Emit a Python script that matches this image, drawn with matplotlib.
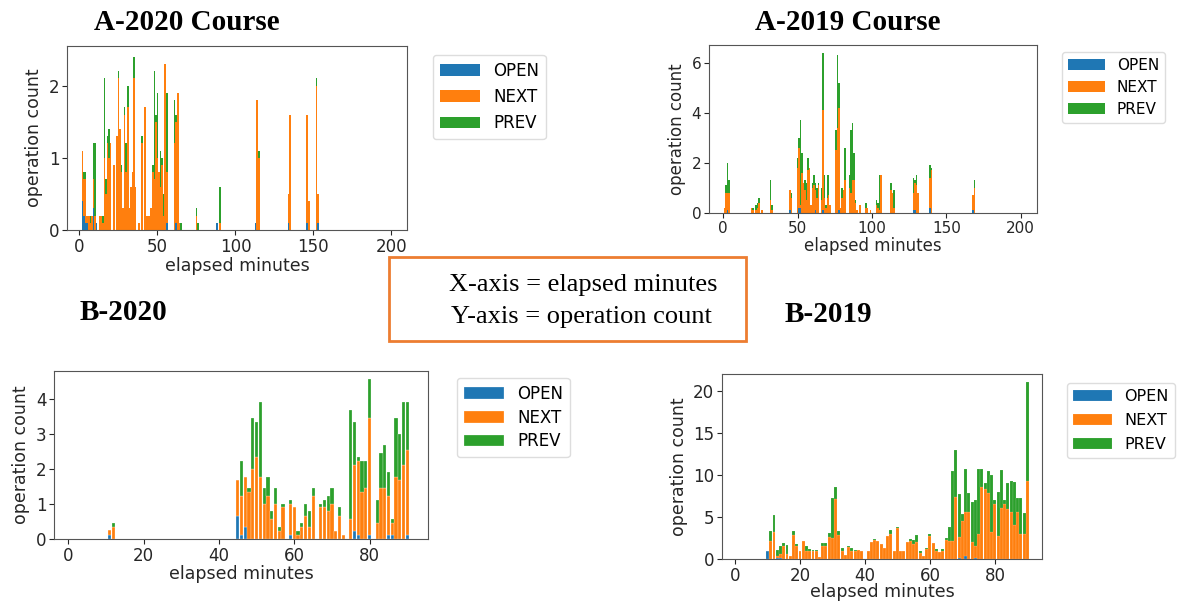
import matplotlib
matplotlib.use("Agg")
import matplotlib.pyplot as plt
from matplotlib.patches import Rectangle

plt.rcParams["font.family"] = "DejaVu Sans"

labels = ["OPEN", "NEXT", "PREV"]
colors = ["#1f77b4", "#ff7f0e", "#2ca02c"]

# ---- A-2020 Course ----
a20_min = [2, 3, 4, 5, 6, 7, 8, 9, 10, 11,
           13, 14, 15, 16, 17, 18, 19, 20,
           22, 24, 25, 26, 27, 28, 29, 30, 31, 32,
           33, 34, 35, 36, 38, 40, 42, 43, 44, 45,
           46, 47, 48, 49, 50, 51, 52, 53, 54, 55,
           56, 61, 62, 63, 64, 65, 75, 76, 88, 90,
           113, 114, 115, 134, 135, 146, 147, 152, 153]
a20_open = [0.4, 0.2, 0.1, 0.1, 0, 0, 0, 0.3, 0, 0.1,
            0, 0, 0, 0, 0, 0, 0, 0,
            0, 0, 0, 0, 0, 0, 0, 0, 0, 0,
            0, 0, 0, 0, 0, 0, 0, 0, 0, 0,
            0, 0, 0, 0, 0, 0, 0, 0, 0, 0,
            0.1, 0, 0.1, 0, 0, 0, 0, 0, 0.1, 0,
            0.1, 0, 0, 0.1, 0, 0.1, 0, 0, 0.1]
a20_next = [0.7, 0.5, 0.6, 0.1, 0.2, 0.1, 0.2, 0.4, 0.2, 0,
            0.2, 0.2, 0.1, 1.0, 0.5, 1.2, 1.0, 1.2,
            0.9, 1.3, 2.1, 1.4, 0.8, 0.3, 1.6, 0.8, 1.7, 0.3,
            0.6, 0.8, 2.1, 0.6, 0.1, 1.2, 1.7, 0.2, 0.2, 0.2,
            0.3, 0.8, 0.7, 1.5, 1.0, 0.8, 0.6, 0.9, 0.2, 2.3,
            0.7, 1.2, 1.4, 1.9, 0.1, 0, 0.2, 0, 0, 0.1,
            0, 1.8, 1.0, 0.4, 1.6, 1.5, 0.4, 2.0, 0.4]
a20_prev = [0, 0.1, 0.1, 0, 0, 0.1, 0, 0.5, 1.0, 0,
            0, 0, 0.1, 1.1, 0.2, 0.1, 0.4, 0,
            0, 0, 0.1, 0, 0.1, 0, 0.1, 0.4, 0.3, 0,
            0, 0, 0.3, 0, 0, 0.1, 0, 0, 0, 0,
            0, 0.1, 1.5, 0.1, 0.9, 0, 0.5, 0.1, 0.3, 0,
            1.1, 0.6, 0.1, 0, 0, 0.1, 0.1, 0.1, 0, 0.5,
            0, 0, 0.1, 0, 0, 0, 0, 0.1, 0]

# ---- A-2019 Course ----
a19_min = [1, 2, 3, 4, 19, 20, 22, 23, 24, 26,
           32, 33, 45, 46, 50, 51, 52, 53, 54, 55,
           56, 57, 58, 59, 60, 61, 62, 63, 64, 66,
           67, 68, 69, 70, 71, 72, 76, 77, 78, 79,
           80, 81, 82, 85, 86, 87, 88, 89, 90, 92,
           96, 97, 99, 103, 104, 105, 106, 113, 114, 115,
           128, 129, 130, 131, 139, 140, 168, 169]
a19_open = [0, 0, 0.1, 0, 0, 0, 0, 0, 0, 0,
            0, 0, 0.1, 0, 0, 0.2, 0.2, 0, 0, 0,
            0, 0, 0, 0, 0, 0, 0.1, 0, 0, 0,
            0.1, 0, 0, 0, 0, 0, 0, 0, 0.1, 0,
            0, 0, 0, 0, 0, 0, 0, 0, 0, 0,
            0, 0, 0, 0, 0, 0, 0, 0, 0, 0,
            0.1, 0.1, 0, 0, 0.2, 0, 0.1, 0]
a19_next = [0.2, 0.8, 0.7, 0.8, 0.2, 0.1, 0.1, 0.2, 0.4, 0.1,
            0.5, 0.1, 0.8, 0.6, 1.8, 2.4, 0.1, 1.6, 1.2, 0.9,
            0.5, 1.7, 1.8, 0.3, 1.0, 1.1, 0.8, 0.6, 1.1, 0.5,
            4.0, 0.6, 0.2, 0.6, 0.7, 0.3, 2.5, 3.4, 4.1, 0.2,
            0.6, 0.9, 1.3, 1.0, 0.8, 1.3, 1.3, 0.4, 0.1, 0.3,
            0.2, 0.2, 0.1, 0.3, 0.2, 0.1, 1.5, 0.9, 0.8, 0.2,
            0.7, 1.1, 1.1, 0.8, 1.2, 1.7, 0.6, 1.0]
a19_prev = [0, 0.3, 1.2, 0.5, 0, 0.1, 0.2, 0.2, 0.2, 0,
            0.8, 0.2, 0, 0.2, 0.4, 0.4, 3.4, 0.8, 0, 0.4,
            0.7, 0.5, 0, 0, 0.2, 0.4, 0.3, 0.4, 0.1, 0.5,
            2.3, 0.9, 0.1, 0.9, 0.8, 0, 0.8, 2.9, 1.0, 0,
            0.4, 0, 1.3, 0.5, 2.5, 2.3, 1.1, 0.1, 0, 0,
            0.2, 0, 0, 0.2, 0.2, 1.4, 0, 0.3, 0, 0.7,
            0.6, 0.1, 0.4, 0, 0.5, 0.1, 0, 0.3]

# ---- B-2020 ----
b20_min = [11, 12, 45, 46, 47, 48, 49, 50, 51, 52, 53, 54, 55, 56, 57,
           59, 60, 61, 62, 63, 64, 65, 67, 68, 69, 70, 71, 72, 73,
           75, 76, 77, 78, 79, 80, 82, 83, 84, 85, 86, 87, 88, 89, 90]
b20_open = [0.12, 0, 0.67, 0.12, 0.35, 0, 0, 0, 0, 0, 0, 0, 0, 0, 0,
            0.12, 0, 0, 0, 0, 0, 0, 0, 0, 0, 0, 0, 0, 0,
            0, 0.23, 0.12, 0, 0, 0.12, 0, 0, 0, 0.12, 0.12, 0, 0, 0, 0.12]
b20_next = [0.13, 0.35, 1.0, 1.11, 1.42, 1.35, 2.0, 2.35, 1.77, 1.0, 1.23, 0.57, 1.0, 0.23, 0.9,
            0.88, 0.9, 0.12, 0.35, 0.67, 0.35, 1.23, 0.9, 0.9, 0.8, 1.0, 0.23, 0.67, 0.12,
            0.57, 1.87, 2.1, 1.35, 1.45, 3.33, 0.45, 1.45, 1.45, 1.11, 0.33, 1.77, 1.67, 2.1, 2.43]
b20_prev = [0, 0.1, 0, 0.99, 0, 0.1, 1.45, 0.98, 2.13, 0.45, 0.54, 0.23, 0.45, 0.12, 0.1,
            0.12, 0, 0.11, 0.1, 0.33, 0.45, 0.22, 0.1, 0.22, 0.43, 0.45, 0, 0.23, 0,
            3.1, 1.23, 0.11, 0.87, 0.77, 1.1, 0.67, 1.0, 1.22, 0.67, 0.12, 1.68, 1.33, 1.8, 1.35]

# ---- B-2019 ----
b19_min = list(range(10, 40)) + list(range(41, 91))
b19_open = [0.9, 0, 0, 0.1, 0.1, 0, 0, 0, 0, 0,
            0, 0, 0, 0, 0, 0, 0, 0, 0, 0,
            0, 0, 0, 0, 0, 0, 0, 0, 0, 0,
            0, 0, 0, 0, 0, 0, 0, 0, 0, 0,
            0, 0, 0, 0, 0, 0, 0, 0, 0, 0,
            0, 0, 0, 0, 0, 0, 0, 0, 0.1, 0,
            0.3, 0, 0, 0.1, 0, 0, 0, 0, 0, 0,
            0, 0, 0, 0, 0, 0, 0, 0, 0, 0]
b19_next = [0.1, 2.1, 3.2, 0.3, 0.5, 1.5, 0.6, 0.3, 2.9, 1.5,
            0.9, 2.1, 0.9, 1.0, 1.0, 0.9, 0.2, 1.6, 1.6, 2.6,
            2.5, 7.1, 2.9, 0.9, 0.5, 1.4, 1.0, 0.9, 1.1, 0.9,
            1.0, 2.0, 2.3, 2.1, 1.8, 1.3, 2.7, 3.0, 1.0, 3.7,
            0.9, 0.9, 2.0, 2.2, 1.8, 2.0, 0.7, 0.3, 1.2, 2.7,
            1.9, 1.0, 0.8, 1.0, 2.3, 2.1, 2.1, 7.4, 2.5, 4.5,
            5.3, 5.6, 2.0, 1.5, 3.0, 8.6, 8.3, 7.8, 3.2, 6.6,
            2.7, 6.1, 6.5, 6.0, 5.6, 4.0, 5.6, 3.0, 3.0, 9.3]
b19_prev = [0, 1.2, 2.0, 0.7, 1.0, 0.4, 1.1, 0, 0.4, 0.3,
            0, 0, 0.6, 0.2, 0.1, 0.2, 0, 0.3, 0.3, 0.5,
            4.7, 1.5, 0.4, 0.4, 0, 0.1, 0.3, 0.2, 0, 0,
            0, 0, 0.1, 0, 0, 0, 0, 0.4, 0, 0.1,
            0, 0, 0, 0.2, 0.5, 0.9, 0.2, 0, 0.1, 0.3,
            0, 0.2, 0, 0.2, 0.2, 1.7, 8.4, 5.6, 5.1, 0.9,
            5.1, 2.3, 4.8, 5.4, 7.7, 2.1, 0.7, 2.7, 6.8, 0.4,
            5.3, 4.5, 0.5, 3.0, 3.7, 5.1, 1.6, 4.3, 2.5, 11.7]

W, H = 1177, 603
fig = plt.figure(figsize=(W / 100, H / 100), dpi=100)


def px_axes(left, top, right, bottom):
    return fig.add_axes([left / W, 1 - bottom / H, (right - left) / W, (bottom - top) / H])


def stacked(ax, minutes, op, nx, pv, width, lw, xlim, ylim, yticks, xticks, tick_fs, lab_fs, xpad):
    bottom2 = [a + b for a, b in zip(op, nx)]
    kw = dict(width=width, edgecolor=(1, 1, 1, 0.6), linewidth=lw)
    ax.bar(minutes, op, color=colors[0], label=labels[0], **kw)
    ax.bar(minutes, nx, bottom=op, color=colors[1], label=labels[1], **kw)
    ax.bar(minutes, pv, bottom=bottom2, color=colors[2], label=labels[2], **kw)
    ax.set_xlim(*xlim)
    ax.set_ylim(*ylim)
    ax.set_yticks(yticks)
    ax.set_xticks(xticks)
    ax.tick_params(labelsize=tick_fs, colors="#262626", pad=2)
    ax.set_xlabel("elapsed minutes", fontsize=lab_fs, color="#262626", labelpad=xpad)
    ax.set_ylabel("operation count", fontsize=lab_fs, color="#262626", labelpad=4)
    for s in ax.spines.values():
        s.set_color("#555555")


def legend(ax, x, y, fs, spacing):
    ax.legend(loc="upper left", bbox_to_anchor=(x / W, 1 - y / H), bbox_transform=fig.transFigure,
              fontsize=fs, handlelength=2.4, labelspacing=spacing, borderaxespad=0, framealpha=1,
              edgecolor="#dddddd")


ax1 = px_axes(67, 46, 407, 230)
stacked(ax1, a20_min, a20_open, a20_next, a20_prev, 1.0, 0, (-8, 210), (0, 2.55), [0, 1, 2],
        [0, 50, 100, 150, 200], 12, 12.5, 1)
legend(ax1, 433, 55, 12, 0.5)

ax2 = px_axes(709, 45, 1037, 213)
stacked(ax2, a19_min, a19_open, a19_next, a19_prev, 1.0, 0, (-9.5, 211), (0, 6.7), [0, 2, 4, 6],
        [0, 50, 100, 150, 200], 11, 12, 1)
legend(ax2, 1062, 52, 11, 0.45)

ax3 = px_axes(54, 371, 428, 539)
stacked(ax3, b20_min, b20_open, b20_next, b20_prev, 0.85, 0.3, (-3.8, 95.5), (0, 4.79), [0, 1, 2, 3, 4],
        [0, 20, 40, 60, 80], 12, 12.5, 0)
legend(ax3, 457, 378, 12, 0.35)

ax4 = px_axes(722, 374, 1042, 559)
stacked(ax4, b19_min, b19_open, b19_next, b19_prev, 0.9, 0.15, (-4, 94.5), (0, 22), [0, 5, 10, 15, 20],
        [0, 20, 40, 60, 80], 12, 12.5, -1)
legend(ax4, 1067, 383, 11.5, 0.55)

serif = "Liberation Serif"
fig.text(187 / W, 1 - 22 / H, "A-2020 Course", family=serif, weight="bold", fontsize=21, ha="center", va="center")
fig.text(848 / W, 1 - 22 / H, "A-2019 Course", family=serif, weight="bold", fontsize=21, ha="center", va="center")
fig.text(123 / W, 1 - 313 / H, "B-2020", family=serif, weight="bold", fontsize=21, ha="center", va="center")
fig.text(828 / W, 1 - 315 / H, "B-2019", family=serif, weight="bold", fontsize=21, ha="center", va="center")

fig.patches.append(Rectangle((389 / W, 1 - 341 / H), (746 - 389) / W, (341 - 257) / H,
                             transform=fig.transFigure, fill=False, edgecolor="#ed7d31", linewidth=2))
fig.text(583 / W, 1 - 285 / H, "X-axis = elapsed minutes", family=serif, fontsize=19, ha="center", va="center")
fig.text(581 / W, 1 - 317 / H, "Y-axis = operation count", family=serif, fontsize=19, ha="center", va="center")

fig.savefig("out.png", dpi=100, facecolor="white")
